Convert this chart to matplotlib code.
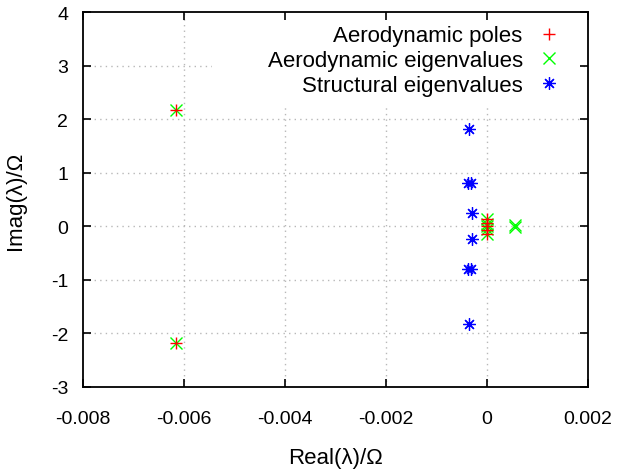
import numpy as np
import matplotlib
matplotlib.use("Agg")
import matplotlib.pyplot as plt
from matplotlib.patches import Rectangle

# === data ===
aero_pole_re = [-0.00616, -0.00616, 0.0, 0.0, 0.0, 0.0, 0.0]
aero_pole_im = [2.18, -2.18, 0.14, 0.07, 0.0, -0.07, -0.14]

aero_eig_re = [-0.00616, -0.00616, 0.0, 0.0, 0.0, 0.0, 0.0, 0.00056, 0.00056]
aero_eig_im = [2.18, -2.18, 0.14, 0.05, 0.0, -0.05, -0.14, 0.02, -0.02]

struct_re = [-0.00035, -0.00037, -0.00032, -0.00029, -0.00029, -0.00037, -0.00032, -0.00035]
struct_im = [1.82, 0.81, 0.81, 0.24, -0.24, -0.80, -0.80, -1.82]

xticks = [-0.008, -0.006, -0.004, -0.002, 0, 0.002]
xticklabels = ["-0.008", "-0.006", "-0.004", "-0.002", "0", "0.002"]
yticks = [-3, -2, -1, 0, 1, 2, 3, 4]
yticklabels = ["-3", "-2", "-1", "0", "1", "2", "3", "4"]

plt.rcParams['font.family'] = ['Liberation Sans', 'DejaVu Sans']
plt.rcParams['font.size'] = 14
plt.rcParams['axes.unicode_minus'] = False

fig = plt.figure(figsize=(6.24, 4.77), dpi=100)
ax = fig.add_axes([0.1325, 0.187, 0.8095, 0.785])

ax.set_xlim(-0.008, 0.002)
ax.set_ylim(-3, 4)

# dotted grid drawn by hand so the key box can sit over it (gnuplot style)
for xv in xticks[1:-1]:
    ax.axvline(xv, color='#b8b8b8', linestyle=(0, (1, 3)), linewidth=1, zorder=0.5)
for yv in yticks[1:-1]:
    ax.axhline(yv, color='#b8b8b8', linestyle=(0, (1, 3)), linewidth=1, zorder=0.5)
ax.add_patch(Rectangle((0.256, 0.75), 0.73, 0.25, transform=ax.transAxes,
                       facecolor='white', edgecolor='none', zorder=1))

ax.plot(aero_pole_re, aero_pole_im, linestyle='none', marker='+', color='#ff0000',
        markersize=8, markeredgewidth=1.0, label='Aerodynamic poles', zorder=4)
ax.plot(aero_eig_re, aero_eig_im, linestyle='none', marker='x', color='#00ff00',
        markersize=9, markeredgewidth=1.0, label='Aerodynamic eigenvalues', zorder=3)
ax.plot(struct_re, struct_im, linestyle='none', marker=(8, 2, 0), color='#0000ff',
        markersize=9, markeredgewidth=0.9, label='Structural eigenvalues', zorder=3)

ax.set_xticks(xticks)
ax.set_xticklabels(xticklabels)
ax.set_yticks(yticks)
ax.set_yticklabels(yticklabels)
ax.tick_params(direction='in', top=True, right=True, length=6, width=1.2)
ax.tick_params(axis='x', pad=17)
ax.tick_params(axis='y', pad=10.5)
for s in ax.spines.values():
    s.set_linewidth(1.3)

ax.set_xlabel('Real(λ)/Ω', fontsize=16)
ax.set_ylabel('Imag(λ)/Ω', fontsize=16)
ax.xaxis.set_label_coords(0.5, -0.16)
ax.yaxis.set_label_coords(-0.112, 0.5)

leg = ax.legend(loc='upper right', bbox_to_anchor=(0.945, 0.965), markerfirst=False,
                frameon=False, fontsize=16, handletextpad=0.68, labelspacing=0.16,
                handlelength=1.0, numpoints=1, borderaxespad=0, borderpad=0)
for t in leg.get_texts():
    t.set_ha('right')
leg.set_zorder(5)

fig.savefig('out.png', dpi=100)
